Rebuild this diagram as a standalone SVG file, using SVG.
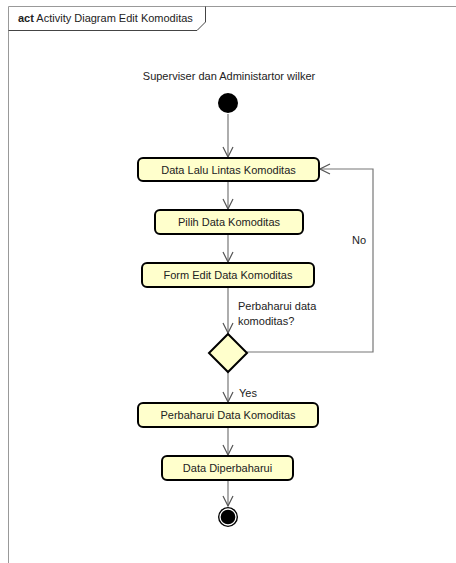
<svg xmlns="http://www.w3.org/2000/svg" width="456" height="563" viewBox="0 0 456 563">
<style>
text{font-family:"Liberation Sans",Arial,sans-serif;font-size:11px;fill:#222}
.box{fill:#FFFFCC;stroke:#000;stroke-width:2}
.c{fill:none;stroke:#777;stroke-width:1.2}
.lbl{text-anchor:middle}
</style>
<defs>
<marker id="a" viewBox="0 0 12 12" refX="11" refY="6" markerWidth="12" markerHeight="12" markerUnits="userSpaceOnUse" orient="auto">
<path d="M1,1 L11,6 L1,11" fill="none" stroke="#555" stroke-width="1.2"/>
</marker>
</defs>
<rect width="456" height="563" fill="#fff"/>
<g id="frame">
<path d="M8.5,563 V6.5 H456" fill="none" stroke="#999" stroke-width="1"/>
<path d="M8.5,30.5 H197 L205.5,22 V6.5" fill="none" stroke="#444" stroke-width="1"/>
<text x="18" y="22"><tspan font-weight="bold">act</tspan> Activity Diagram Edit Komoditas</text>
</g>
<g id="connectors">
<path class="c" d="M228,114 V157" marker-end="url(#a)"/>
<path class="c" d="M228,182 V209" marker-end="url(#a)"/>
<path class="c" d="M228,235 V262" marker-end="url(#a)"/>
<path class="c" d="M228,288 V333" marker-end="url(#a)"/>
<path class="c" d="M247,352 H373 V169 H320" marker-end="url(#a)"/>
<path class="c" d="M228,372 V402" marker-end="url(#a)"/>
<path class="c" d="M228,428 V455" marker-end="url(#a)"/>
<path class="c" d="M228,481 V506" marker-end="url(#a)"/>
<text x="352" y="244">No</text>
<text x="238" y="310">Perbaharui data</text>
<text x="238" y="325">komoditas?</text>
<text x="239" y="397">Yes</text>
</g>
<g id="actor-label"><text class="lbl" x="229" y="80">Superviser dan Administartor wilker</text></g>
<g id="start"><circle cx="228" cy="103" r="10" fill="#000"/></g>
<g id="n1"><rect class="box" x="138" y="158" width="181" height="23" rx="5"/><text class="lbl" x="228.5" y="174">Data Lalu Lintas Komoditas</text></g>
<g id="n2"><rect class="box" x="155" y="210" width="148" height="24" rx="5"/><text class="lbl" x="229" y="226">Pilih Data Komoditas</text></g>
<g id="n3"><rect class="box" x="142" y="263" width="172" height="24" rx="5"/><text class="lbl" x="228" y="279">Form Edit Data Komoditas</text></g>
<g id="decision"><path class="box" d="M228,334 L247,353 L228,372 L209,353 Z" stroke-linejoin="miter"/></g>
<g id="n4"><rect class="box" x="138" y="403" width="180" height="24" rx="5"/><text class="lbl" x="228" y="419">Perbaharui Data Komoditas</text></g>
<g id="n5"><rect class="box" x="162" y="456" width="131" height="24" rx="5"/><text class="lbl" x="227.5" y="472">Data Diperbaharui</text></g>
<g id="end"><circle cx="228" cy="517" r="10" fill="#000"/><circle cx="228" cy="517" r="8" fill="none" stroke="#fff" stroke-width="1.3"/></g>
</svg>
